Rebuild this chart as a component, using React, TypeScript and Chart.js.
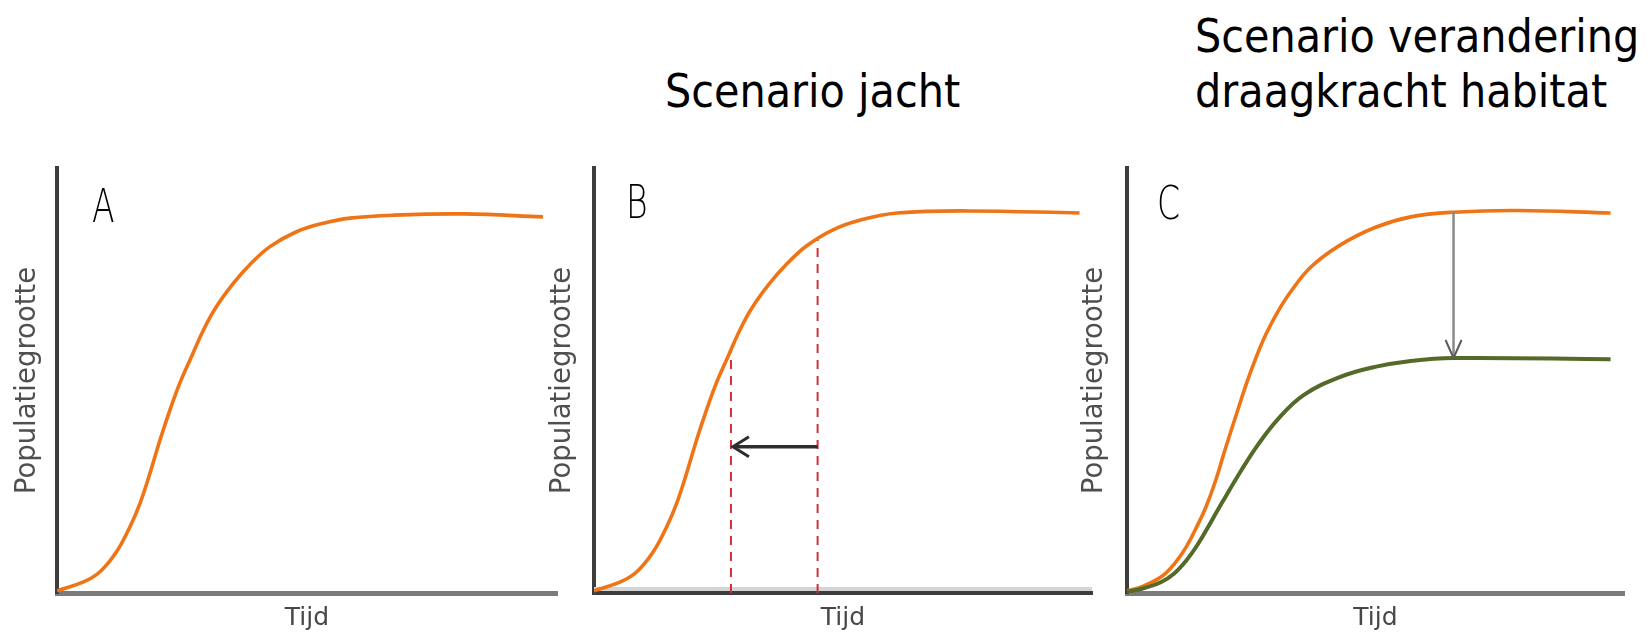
import React, { useEffect, useRef } from "react";
import { Chart, registerables } from "chart.js";

Chart.register(...registerables);

// ---------- data ----------
const X_MIN = 0;
const X_MAX = 100;
const Y_MIN = 0;
const Y_MAX = 100;

const xAxisTitle = "Tijd";
const yAxisTitle = "Populatiegrootte";
const titleJacht = "Scenario jacht";
const titleHabitat = ["Scenario verandering", "draagkracht habitat"];
const panelLetters = ["A", "B", "C"];

// Panel A – logistic growth
const curveA_x = [0, 5.3, 8.6, 11.9, 14.6, 16.6, 18.6, 20.6, 22.6, 24.6, 26.6, 29.3, 31.9, 35.3, 38.6, 42.6, 47.9, 53.3, 58.6, 67.2, 81.4, 97.2];
const curveA_y = [0.5, 2.6, 5.0, 9.7, 15.6, 21.1, 28.2, 36.0, 43.1, 49.5, 54.8, 61.9, 67.4, 72.9, 77.3, 81.5, 85.0, 87.0, 88.2, 88.9, 89.2, 88.5];

// Panel B – hunting scenario
const curveB_x = [0, 5.3, 8.6, 11.9, 14.6, 16.6, 18.6, 20.6, 22.6, 24.6, 26.6, 29.3, 31.9, 35.3, 38.6, 42.6, 47.9, 53.7, 60.9, 75.2, 97.5];
const curveB_y = [0.5, 2.6, 5.0, 9.7, 15.6, 21.1, 28.2, 36.0, 43.1, 49.5, 54.8, 61.9, 67.4, 72.9, 77.3, 81.6, 85.4, 87.8, 89.4, 89.9, 89.4];
const dashOld_x = [44.9, 44.9];
const dashOld_y = [0, 83.3];
const dashNew_x = [27.5, 27.5];
const dashNew_y = [0, 57.0];
const arrowB_x = [44.9, 27.9];
const arrowB_y = [34.4, 34.4];

// Panel C – change of carrying capacity
const curveC1_x = [0, 3, 6.9, 9.5, 11.9, 14, 15.8, 17.7, 19.8, 22, 24.1, 26, 28, 30.5, 33, 37, 42.8, 49.9, 57.1, 65.7, 78.6, 97.3];
const curveC1_y = [0.5, 1.5, 3.8, 6.8, 10.8, 15.5, 20, 26, 34, 42, 49.5, 55.5, 61, 66.5, 71, 76.7, 81.8, 86, 88.5, 89.6, 90, 89.4];
const curveC2_x = [0, 3, 6.9, 9.5, 11.9, 14, 16.2, 18, 19.8, 22.7, 26.3, 30.6, 35.6, 42.8, 49.9, 57.1, 65.7, 97.3];
const curveC2_y = [0.3, 1.0, 2.6, 4.6, 7.6, 11, 15.3, 19, 22.6, 28.3, 34.8, 41.2, 46.6, 50.8, 53.2, 54.6, 55.3, 55];
const arrowC_x = [65.7, 65.7];
const arrowC_y = [89.6, 55.3];

// ---------- helpers ----------
const pts = (xs: number[], ys: number[]) => xs.map((x, i) => ({ x, y: ys[i] }));

const ORANGE = "#ef7415";
const GREEN = "#536a29";
const RED = "#d22f38";

const curveDs = (xs: number[], ys: number[], color: string, width = 3.6) => ({
  data: pts(xs, ys),
  borderColor: color,
  borderWidth: width,
  pointRadius: 0,
  fill: false,
  tension: 0.4,
});

const annotPlugin = {
  id: "annot",
  beforeDatasetsDraw(chart: any, _args: any, opts: any) {
    if (!opts.lightBand) return;
    const { ctx, chartArea } = chart;
    ctx.save();
    ctx.fillStyle = "#d4d4d4";
    ctx.fillRect(chartArea.left, chartArea.bottom - 6, chartArea.right - chartArea.left, 4);
    ctx.restore();
  },
  afterDatasetsDraw(chart: any, _args: any, opts: any) {
    const { ctx, chartArea } = chart;
    // panel letter
    ctx.save();
    ctx.fillStyle = "#000";
    ctx.font = '200 46px "DejaVu Sans", sans-serif';
    ctx.textBaseline = "alphabetic";
    ctx.textAlign = "left";
    ctx.translate(chartArea.left + opts.letterDx, chartArea.top + opts.letterDy);
    ctx.scale(0.72, 1);
    ctx.fillText(opts.letter, 0, 0);
    ctx.restore();
    // arrow heads
    chart.data.datasets.forEach((ds: any, i: number) => {
      if (!ds.arrowHead) return;
      const meta = chart.getDatasetMeta(i);
      const n = meta.data.length;
      if (n < 2) return;
      const tip = meta.data[n - 1];
      const prev = meta.data[n - 2];
      const ang = Math.atan2(tip.y - prev.y, tip.x - prev.x);
      const len = ds.arrowLen;
      const half = ds.arrowHalf;
      ctx.save();
      ctx.strokeStyle = ds.arrowColor;
      ctx.lineWidth = ds.arrowWidth;
      ctx.translate(tip.x, tip.y);
      ctx.rotate(ang);
      ctx.beginPath();
      ctx.moveTo(-len, -half);
      ctx.lineTo(0, 0);
      ctx.lineTo(-len, half);
      ctx.stroke();
      ctx.restore();
    });
  },
};

type PanelProps = {
  left: number;
  width: number;
  yTitlePadBottom: number;
  xBorderColor: string;
  xBorderWidth: number;
  lightBand?: boolean;
  datasets: any[];
  letter: string;
  letterDx: number;
  letterDy: number;
};

const TOP = 158;
const HEIGHT = 478;

function Panel(p: PanelProps) {
  const ref = useRef<HTMLCanvasElement | null>(null);
  useEffect(() => {
    if (!ref.current) return;
    const chart = new Chart(ref.current, {
      type: "line",
      data: { datasets: p.datasets },
      plugins: [annotPlugin],
      options: {
        responsive: false,
        animation: false,
        events: [],
        layout: { padding: { top: 10, right: 4, bottom: 0, left: 0 } },
        scales: {
          x: {
            type: "linear",
            min: X_MIN,
            max: X_MAX,
            ticks: { display: false },
            grid: { display: false, drawTicks: false },
            border: { display: true, color: p.xBorderColor, width: p.xBorderWidth },
            title: {
              display: true,
              text: xAxisTitle,
              color: "#474747",
              font: { family: '"DejaVu Sans", sans-serif', size: 25, lineHeight: 1.2 },
              padding: { top: 10, bottom: 3 },
            },
          },
          y: {
            type: "linear",
            min: Y_MIN,
            max: Y_MAX,
            ticks: { display: false },
            grid: { display: false, drawTicks: false },
            border: { display: true, color: "#3d3d3d", width: 4 },
            title: {
              display: true,
              text: yAxisTitle,
              color: "#4f4f4f",
              font: { family: '"DejaVu Sans", sans-serif', size: 27.5, lineHeight: 30 / 27.5 },
              padding: { top: 0, bottom: p.yTitlePadBottom },
            },
          },
        },
        plugins: {
          legend: { display: false },
          tooltip: { enabled: false },
          annot: { letter: p.letter, letterDx: p.letterDx, letterDy: p.letterDy, lightBand: !!p.lightBand },
        } as any,
      },
    } as any);
    return () => chart.destroy();
  }, []);
  return (
    <canvas
      ref={ref}
      width={p.width}
      height={HEIGHT}
      style={{ position: "absolute", left: p.left, top: TOP, width: p.width, height: HEIGHT }}
    />
  );
}

const titleStyle: React.CSSProperties = {
  position: "absolute",
  whiteSpace: "nowrap",
  fontFamily: '"DejaVu Sans Condensed", "DejaVu Sans", sans-serif',
  fontStretch: "condensed",
  fontSize: 46,
  color: "#000",
};

export default function App() {
  const dsA = [curveDs(curveA_x, curveA_y, ORANGE)];
  const dsB = [
    {
      data: pts(arrowB_x, arrowB_y),
      borderColor: "#2e2e2e",
      borderWidth: 3.5,
      pointRadius: 0,
      fill: false,
      arrowHead: true,
      arrowColor: "#2e2e2e",
      arrowWidth: 3,
      arrowLen: 16,
      arrowHalf: 10,
    },
    curveDs(curveB_x, curveB_y, ORANGE),
    { data: pts(dashOld_x, dashOld_y), borderColor: RED, borderWidth: 2, borderDash: [9, 7], pointRadius: 0, fill: false },
    { data: pts(dashNew_x, dashNew_y), borderColor: RED, borderWidth: 2, borderDash: [9, 7], pointRadius: 0, fill: false },
  ];
  const dsC = [
    {
      data: pts(arrowC_x, arrowC_y),
      borderColor: "#8a8a8a",
      borderWidth: 2.5,
      pointRadius: 0,
      fill: false,
      arrowHead: true,
      arrowColor: "#5a5a5a",
      arrowWidth: 2,
      arrowLen: 18,
      arrowHalf: 8,
    },
    curveDs(curveC2_x, curveC2_y, GREEN, 4),
    curveDs(curveC1_x, curveC1_y, ORANGE),
  ];
  return (
    <div style={{ position: "absolute", left: 0, top: 0, width: 1651, height: 636, overflow: "hidden", background: "#fff" }}>
      <div style={{ ...titleStyle, left: 665, top: 68, lineHeight: "46px" }}>{titleJacht}</div>
      <div style={{ ...titleStyle, left: 1195, top: 9, lineHeight: "55px" }}>
        {titleHabitat[0]}
        <br />
        {titleHabitat[1]}
      </div>
      <Panel left={13} width={548} yTitlePadBottom={14} xBorderColor="#7b7b7b" xBorderWidth={5} datasets={dsA} letter={panelLetters[0]} letterDx={35} letterDy={54} />
      <Panel left={548} width={548} yTitlePadBottom={16} xBorderColor="#3d3d3d" xBorderWidth={4} lightBand datasets={dsB} letter={panelLetters[1]} letterDx={32} letterDy={50} />
      <Panel left={1080} width={548} yTitlePadBottom={17} xBorderColor="#7b7b7b" xBorderWidth={5} datasets={dsC} letter={panelLetters[2]} letterDx={30} letterDy={51} />
    </div>
  );
}
